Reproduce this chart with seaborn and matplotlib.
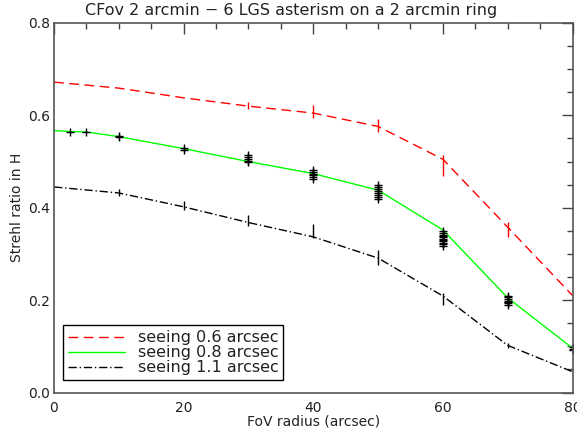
import numpy as np
import seaborn as sns
import matplotlib
matplotlib.use('Agg')
import matplotlib.pyplot as plt
from matplotlib.ticker import MultipleLocator, FormatStrFormatter

# FoV radius (arcsec) of the computed points
fov = [0, 10, 20, 30, 40, 50, 60, 70, 80]
fov_green = [0, 2.5, 5, 10, 20, 30, 40, 50, 60, 70, 80]

# mean Strehl ratio in H for each seeing
strehl_06 = [0.672, 0.659, 0.638, 0.620, 0.605, 0.576, 0.505, 0.358, 0.210]
strehl_08 = [0.567, 0.565, 0.564, 0.554, 0.528, 0.500, 0.474, 0.438, 0.352, 0.205, 0.096]
strehl_11 = [0.445, 0.432, 0.402, 0.368, 0.337, 0.291, 0.209, 0.102, 0.045]

# spread of the individual directions (vertical bars)
bar_x_06 = [30, 40, 50, 60, 70, 80]
bar_lo_06 = [0.614, 0.595, 0.565, 0.468, 0.336, 0.207]
bar_hi_06 = [0.628, 0.623, 0.593, 0.515, 0.370, 0.229]
bar_x_11 = [10, 20, 30, 40, 50, 60, 70]
bar_lo_11 = [0.425, 0.396, 0.360, 0.335, 0.277, 0.190, 0.097]
bar_hi_11 = [0.440, 0.415, 0.385, 0.364, 0.309, 0.216, 0.108]

# individual directions for seeing 0.8 (plus markers)
pts_x_08 = [2.5, 5, 10, 10, 20, 20,
            30, 30, 30, 30, 30,
            40, 40, 40, 40, 40, 40,
            50, 50, 50, 50, 50, 50, 50, 50,
            60, 60, 60, 60, 60, 60, 60, 60, 60, 60, 60,
            70, 70, 70, 70, 70, 70, 70,
            80, 80, 80]
pts_y_08 = [0.565, 0.564, 0.553, 0.556, 0.526, 0.530,
            0.498, 0.502, 0.506, 0.510, 0.514,
            0.462, 0.466, 0.470, 0.474, 0.478, 0.482,
            0.420, 0.424, 0.428, 0.432, 0.436, 0.440, 0.445, 0.450,
            0.318, 0.321, 0.324, 0.327, 0.330, 0.333, 0.336, 0.339, 0.342, 0.346, 0.350,
            0.190, 0.193, 0.196, 0.199, 0.202, 0.206, 0.210,
            0.092, 0.095, 0.098]

sns.set_style('white')
plt.rcParams['font.family'] = ['DejaVu Sans']

fig = plt.figure(figsize=(5.77, 4.34), dpi=100)
ax = fig.add_axes([54 / 577, 1 - 392.5 / 434, 518.5 / 577, 369.5 / 434])

sns.lineplot(x=fov, y=strehl_06, ax=ax, color='#ff0000', linestyle=(0, (7, 4)),
             linewidth=1, label='seeing 0.6 arcsec')
sns.lineplot(x=fov_green, y=strehl_08, ax=ax, color='#00ff00', linewidth=1,
             label='seeing 0.8 arcsec')
sns.lineplot(x=fov, y=strehl_11, ax=ax, color='black', linestyle=(0, (6, 2, 1, 2)),
             linewidth=1, label='seeing 1.1 arcsec')

ax.vlines(bar_x_06, bar_lo_06, bar_hi_06, color='#ff0000', linewidth=1)
ax.vlines(bar_x_11, bar_lo_11, bar_hi_11, color='black', linewidth=1)
ax.plot(pts_x_08, pts_y_08, linestyle='none', marker='+', color='black',
        markersize=6, markeredgewidth=1)

ax.set_xlim(0, 80)
ax.set_ylim(0, 0.8)
ax.xaxis.set_major_locator(MultipleLocator(20))
ax.xaxis.set_minor_locator(MultipleLocator(5))
ax.yaxis.set_major_locator(MultipleLocator(0.2))
ax.yaxis.set_minor_locator(MultipleLocator(0.05))
ax.yaxis.set_major_formatter(FormatStrFormatter('%.1f'))
ax.xaxis.set_major_formatter(FormatStrFormatter('%d'))

ax.tick_params(which='both', direction='in', top=True, right=True,
               color='#444444', labelsize=10, labelcolor='#222222')
ax.tick_params(which='major', length=8, width=1)
ax.tick_params(which='minor', length=4.5, width=1)
ax.tick_params(axis='x', pad=6)
ax.tick_params(axis='y', pad=3)
for sp in ax.spines.values():
    sp.set_color('#555555')
    sp.set_linewidth(1.2)

ax.set_title('CFov 2 arcmin \u2212 6 LGS asterism on a 2 arcmin ring',
             fontsize=11.5, color='#222222', pad=6, x=0.457)
ax.set_xlabel('FoV radius (arcsec)', fontsize=10, color='#222222', labelpad=0)
ax.set_ylabel('Strehl ratio in H', fontsize=10, color='#222222', labelpad=3)

leg = ax.legend(loc='lower left', bbox_to_anchor=(0.017, 0.034), borderaxespad=0,
                fontsize=11.5, handlelength=3.6, handletextpad=0.8,
                labelspacing=0.0, borderpad=0.3,
                fancybox=False, framealpha=1, edgecolor='black')
leg.get_frame().set_linewidth(1)
for t in leg.get_texts():
    t.set_color('#222222')

fig.savefig('out.png', dpi=100)
